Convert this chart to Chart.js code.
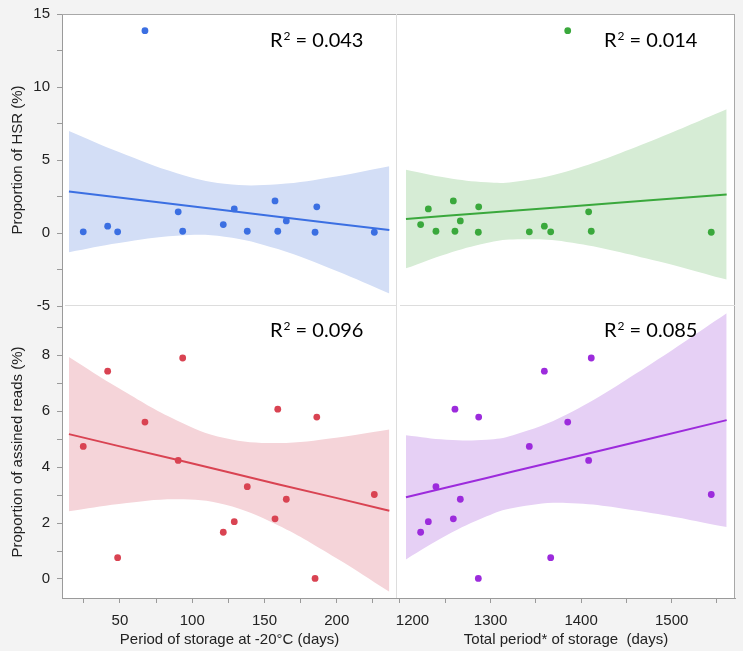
<!DOCTYPE html>
<html>
<head>
<meta charset="utf-8">
<script src="https://cdn.jsdelivr.net/npm/chart.js@4.4.0/dist/chart.umd.min.js"></script>
<style>
  body { margin: 0; background: #ffffff; }
  #fig { position: relative; width: 750px; height: 660px; }
  #bg { position: absolute; left: 0; top: 0; width: 743px; height: 651px; background: #f3f3f3; }
  .box { position: absolute; }
</style>
</head>
<body>
<div id="fig">
  <div id="bg"></div>
  <div class="box" style="left:0;top:0;width:397px;height:320px"><canvas id="tl"></canvas></div>
  <div class="box" style="left:397px;top:0;width:353px;height:320px"><canvas id="tr"></canvas></div>
  <div class="box" style="left:0;top:306px;width:397px;height:354px"><canvas id="bl"></canvas></div>
  <div class="box" style="left:377px;top:306px;width:373px;height:354px"><canvas id="br"></canvas></div>
</div>
<script>
// samples (same order in every array)
var storageDays = [24.6, 41.5, 48.4, 67.3, 90.3, 93.4, 121.5, 129.1, 138.1, 157.3, 159.2, 165.1, 185.0, 186.2, 226.0];
var totalDays   = [1342.8, 1359.4, 1366.4, 1385.2, 1408.3, 1411.2, 1222.8, 1231.3, 1239.7, 1258.9, 1260.7, 1266.6, 1286.5, 1286.9, 1543.7];
var hsrPct      = [0.08, 0.47, 0.08, 13.86, 1.45, 0.12, 0.58, 1.65, 0.12, 2.20, 0.12, 0.83, 0.05, 1.79, 0.05];
var readsPct    = [4.74, 7.43, 0.76, 5.61, 4.24, 7.90, 1.67, 2.05, 3.30, 2.15, 6.07, 2.85, 0.02, 5.79, 3.02];

// fit line + confidence band
var storageBandX = [14.7, 49.3, 89.4, 122.4, 159.3, 199.5, 236.4];
var totalBandX   = [1206.6, 1251.5, 1295.7, 1324.8, 1384.0, 1472.4, 1560.7];

var hsrStorFit   = [2.84, 2.43, 1.95, 1.56, 1.12, 0.64, 0.21];
var hsrStorUp    = [6.99, 5.54, 4.09, 3.37, 3.34, 3.87, 4.57];
var hsrStorLo    = [-1.31, -0.68, -0.19, -0.25, -1.10, -2.59, -4.15];

var hsrTotFit    = [0.96, 1.18, 1.39, 1.52, 1.80, 2.22, 2.64];
var hsrTotUp     = [4.34, 3.79, 3.47, 3.49, 4.21, 6.18, 8.47];
var hsrTotLo     = [-2.42, -1.43, -0.69, -0.45, -0.61, -1.74, -3.19];

var readsStorFit = [5.18, 4.75, 4.26, 3.85, 3.39, 2.90, 2.44];
var readsStorUp  = [7.94, 6.82, 5.67, 5.04, 4.86, 5.05, 5.34];
var readsStorLo  = [2.42, 2.68, 2.85, 2.66, 1.92, 0.75, -0.46];

var readsTotFit  = [2.92, 3.27, 3.61, 3.84, 4.30, 4.99, 5.68];
var readsTotUp   = [5.14, 4.98, 4.98, 5.14, 5.88, 7.59, 9.50];
var readsTotLo   = [0.70, 1.56, 2.24, 2.54, 2.72, 2.39, 1.86];

var r2Values = ['0.043', '0.014', '0.096', '0.085'];

var hsrTicks = [-5, 0, 5, 10, 15];
var readsTicks = [0, 2, 4, 6, 8];
var storageTicks = [50, 100, 150, 200];
var totalTicks = [1200, 1300, 1400, 1500];

var axisGray = '#9a9a9a';
var divGray = '#dddddd';
var fonte = { family: 'Liberation Sans, Arial, sans-serif', size: 15 };

function pares(xs, ys) {
    return xs.map(function (x, i) { return { x: x, y: ys[i] }; });
}

// white plot area, frame lines and the R² text
var moldura = {
    id: 'moldura',
    beforeDraw: function (chart, args, opts) {
        var a = chart.chartArea, ctx = chart.ctx;
        ctx.save();
        ctx.fillStyle = '#ffffff';
        ctx.fillRect(a.left, a.top, a.right - a.left, a.bottom - a.top);
        ctx.restore();
    },
    afterDraw: function (chart, args, opts) {
        var a = chart.chartArea, ctx = chart.ctx;
        ctx.save();
        ctx.lineWidth = 1;
        function linha(cor, x1, y1, x2, y2) {
            if (!cor) return;
            ctx.strokeStyle = cor;
            ctx.beginPath();
            ctx.moveTo(x1, y1);
            ctx.lineTo(x2, y2);
            ctx.stroke();
        }
        linha(opts.top, a.left, a.top + 0.5, a.right, a.top + 0.5);
        linha(opts.right, a.right - 0.5, a.top, a.right - 0.5, a.bottom);
        linha(opts.bottom, a.left + 3, a.bottom - 0.5, a.right, a.bottom - 0.5);

        if (opts.r2) {
            var x = a.left + opts.dx, y = a.top + opts.dy;
            ctx.fillStyle = '#000000';
            ctx.textBaseline = 'alphabetic';
            ctx.textAlign = 'left';
            ctx.font = '20px Lato';
            ctx.fillText('R', x, y);
            x += ctx.measureText('R').width + 1;
            ctx.font = '12px Lato';
            ctx.fillText('2', x, y - 7);
            x += ctx.measureText('2').width;
            ctx.font = '20px Lato';
            ctx.fillText(' = ' + opts.r2, x, y);
        }
        ctx.restore();
    }
};

// fixed axis size, no extra padding for the end labels
function fixar(sc, tamanho) {
    if (sc.isHorizontal()) sc.height = tamanho; else sc.width = tamanho;
    sc.paddingLeft = 0;
    sc.paddingRight = 0;
    sc.paddingTop = 0;
    sc.paddingBottom = 0;
}

function eixo(show, min, max, step, labels, titulo, lado, tamanho) {
    if (!show) return { type: 'linear', display: false, min: min, max: max };
    var s = {
        type: 'linear',
        min: min,
        max: max,
        border: { display: true, color: axisGray, width: 1 },
        grid: { drawOnChartArea: false, drawTicks: true, tickLength: 5, tickColor: axisGray },
        ticks: {
            stepSize: step,
            includeBounds: false,
            autoSkip: false,
            maxRotation: 0,
            padding: 7,
            color: '#222222',
            font: fonte,
            callback: function (v, i) {
                if (labels.indexOf(v) < 0) return '';
                // first label of the bottom axis sits a bit to the right of its tick, as in JMP
                if (lado === 'x' && v === labels[0] && v > 1000) return '      ' + v;
                return String(v);
            }
        },
        title: { display: true, text: titulo, color: '#222222', font: fonte },
        afterFit: function (sc) { fixar(sc, tamanho); }
    };
    if (lado === 'y') {
        s.title.padding = { top: 9, bottom: 0 };
    } else {
        s.ticks.padding = 9;
        s.title.padding = { top: 0, bottom: 11 };
    }
    return s;
}

function painel(id, cor, faixa, xs, ys, bandX, fit, up, lo, escalas, pad, frame) {
    return new Chart(document.getElementById(id), {
        type: 'scatter',
        data: {
            datasets: [
                { data: pares(xs, ys), backgroundColor: cor, borderColor: cor, borderWidth: 0, pointRadius: 3.4, order: 0 },
                { data: pares(bandX, fit), showLine: true, borderColor: cor, borderWidth: 2, pointRadius: 0, order: 1 },
                { data: pares(bandX, up), showLine: true, borderColor: 'transparent', borderWidth: 0, pointRadius: 0,
                  tension: 0.4, fill: '+1', backgroundColor: faixa, order: 2 },
                { data: pares(bandX, lo), showLine: true, borderColor: 'transparent', borderWidth: 0, pointRadius: 0,
                  tension: 0.4, fill: false, order: 3 }
            ]
        },
        options: {
            responsive: true,
            maintainAspectRatio: false,
            animation: false,
            events: [],
            layout: { padding: pad, autoPadding: false },
            plugins: { legend: { display: false }, tooltip: { enabled: false }, moldura: frame },
            scales: escalas
        },
        plugins: [moldura]
    });
}

var stMin = 9.9, stMax = 241.7, toMin = 1196.7, toMax = 1569.9;

painel('tl', '#3b6fe2', '#d3def6', storageDays, hsrPct, storageBandX, hsrStorFit, hsrStorUp, hsrStorLo, {
    x: eixo(false, stMin, stMax),
    y: eixo(true, -5, 15, 2.5, hsrTicks, 'Proportion of HSR (%)', 'y', 62)
}, { top: 14, bottom: 14, left: 0, right: 0 },
   { top: '#a8a8a8', right: divGray, bottom: divGray, r2: r2Values[0], dx: 208, dy: 33 });

painel('tr', '#3aa83c', '#d6ecd5', totalDays, hsrPct, totalBandX, hsrTotFit, hsrTotUp, hsrTotLo, {
    x: eixo(false, toMin, toMax),
    y: eixo(false, -5, 15)
}, { top: 14, bottom: 14, left: 0, right: 15 },
   { top: '#a8a8a8', right: '#a8a8a8', bottom: divGray, r2: r2Values[1], dx: 207, dy: 33 });

painel('bl', '#d94352', '#f5d4d9', storageDays, readsPct, storageBandX, readsStorFit, readsStorUp, readsStorLo, {
    x: eixo(true, stMin, stMax, 25, storageTicks, 'Period of storage at -20\u00B0C (days)', 'x', 62),
    y: eixo(true, -0.68, 9.76, 1, readsTicks, 'Proportion of assined reads (%)', 'y', 62)
}, { top: 0, bottom: 0, left: 0, right: 0 },
   { right: divGray, r2: r2Values[2], dx: 208, dy: 31 });

painel('br', '#9c2bdc', '#e6d0f5', totalDays, readsPct, totalBandX, readsTotFit, readsTotUp, readsTotLo, {
    x: eixo(true, toMin, toMax, 50, totalTicks, 'Total period* of storage  (days)', 'x', 62),
    y: eixo(false, -0.68, 9.76)
}, { top: 0, bottom: 0, left: 20, right: 15 },
   { right: '#a8a8a8', r2: r2Values[3], dx: 207, dy: 31 });
</script>
</body>
</html>
